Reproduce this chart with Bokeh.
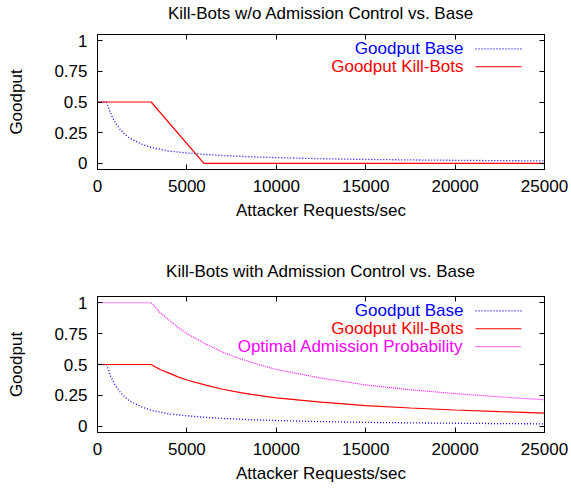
from bokeh.plotting import figure
from bokeh.models import FixedTicker, LinearAxis, Range1d
from bokeh.layouts import column
from bokeh.embed import file_html
from bokeh.resources import INLINE
from bokeh.core.properties import value

FONT = "Liberation Sans"
FS = "17px"

# ---------------- data ----------------
x_ticks = [0, 5000, 10000, 15000, 20000, 25000]
x_tick_labels = ["0", "5000", "10000", "15000", "20000", "25000"]
y_ticks = [0, 0.25, 0.5, 0.75, 1]
y_tick_labels = ["0", "0.25", "0.5", "0.75", "1"]

title_top = "Kill-Bots w/o Admission Control vs. Base"
title_bottom = "Kill-Bots with Admission Control vs. Base"
x_label = "Attacker Requests/sec"
y_label = "Goodput"

# Goodput of the base server (same in both panels)
base_x = [0, 500, 750, 1000, 1250, 1500, 1750, 2000, 2500, 3000, 3500, 4000,
          5000, 6000, 7000, 8000, 9000, 10000, 12500, 15000, 17500, 20000,
          22500, 25000]
base_y = [0.5, 0.5, 0.40, 0.33, 0.28, 0.24, 0.21, 0.19, 0.155, 0.13, 0.115,
          0.10, 0.085, 0.073, 0.064, 0.057, 0.051, 0.047, 0.038, 0.032, 0.028,
          0.025, 0.022, 0.02]

# Kill-Bots without admission control
kb_noac_x = [0, 3000, 5950, 25000]
kb_noac_y = [0.5, 0.5, 0.0, 0.0]

# Kill-Bots with admission control
ac_x = [0, 3000, 3250, 3500, 4000, 4500, 5000, 6000, 7000, 8000, 9000, 10000,
        12500, 15000, 17500, 20000, 22500, 25000]
kb_ac_y = [0.5, 0.5, 0.48, 0.46, 0.43, 0.40, 0.375, 0.335, 0.30, 0.273, 0.25,
           0.23, 0.195, 0.168, 0.148, 0.132, 0.119, 0.107]
prob_y = [1.0, 1.0, 0.96, 0.92, 0.86, 0.80, 0.75, 0.67, 0.60, 0.545, 0.50,
          0.46, 0.39, 0.335, 0.295, 0.265, 0.238, 0.215]

labels_top = ["Goodput Base", "Goodput Kill-Bots"]
labels_bottom = ["Goodput Base", "Goodput Kill-Bots", "Optimal Admission Probability"]

# ---------------- styles ----------------
BLUE = "#0000ff"
RED = "#ff0000"
MAGENTA = "#ff00ff"
X0, X1 = 0, 25000
Y0, Y1 = -0.05, 1.05
WIDTH = 571
BORDER_L, BORDER_R = 97, 27
FRAME_W = WIDTH - BORDER_L - BORDER_R
LEG_TEXT_END = 366
LEG_LINE0 = 378
LEG_LINE1 = 424
LEG_TOP = 14.5
LEG_STEP = 18


def style_axis(ax, ticks, labels, standoff):
    ax.ticker = FixedTicker(ticks=ticks)
    ax.major_label_overrides = {t: l for t, l in zip(ticks, labels)}
    ax.minor_tick_line_color = None
    ax.major_tick_in = 5
    ax.major_tick_out = 0
    ax.axis_line_color = "black"
    ax.major_tick_line_color = "black"
    ax.major_label_text_font = FONT
    ax.major_label_text_font_size = FS
    ax.major_label_text_color = "black"
    ax.major_label_standoff = standoff
    ax.axis_label_text_font = FONT
    ax.axis_label_text_font_size = FS
    ax.axis_label_text_font_style = "normal"
    ax.axis_label_text_color = "black"


def make_fig(title, height, top, frame_h, title_standoff):
    p = figure(width=WIDTH, height=height, x_range=Range1d(X0, X1),
               y_range=Range1d(Y0, Y1), output_backend="svg",
               toolbar_location=None, min_border_left=BORDER_L,
               min_border_right=BORDER_R, min_border_top=top,
               min_border_bottom=height - top - frame_h)
    p.grid.visible = False
    p.outline_line_color = "black"
    p.outline_line_alpha = 1
    p.background_fill_color = "white"
    p.border_fill_color = "white"
    style_axis(p.xaxis[0], x_ticks, x_tick_labels, 10)
    style_axis(p.yaxis[0], y_ticks, y_tick_labels, 10)
    p.xaxis[0].axis_label = x_label
    p.xaxis[0].axis_label_standoff = 6
    p.yaxis[0].axis_label = y_label
    p.yaxis[0].axis_label_standoff = 25
    # mirrored tick axes; the top one carries the panel title as its label
    top_ax = LinearAxis()
    style_axis(top_ax, x_ticks, ["" for _ in x_ticks], 0)
    top_ax.major_label_text_font_size = "0px"
    top_ax.axis_label = title
    top_ax.axis_label_standoff = title_standoff
    p.add_layout(top_ax, "above")
    right_ax = LinearAxis()
    style_axis(right_ax, y_ticks, ["" for _ in y_ticks], 0)
    right_ax.major_label_text_font_size = "0px"
    p.add_layout(right_ax, "right")
    return p


def add_legend(p, entries, frame_h):
    dx = (X1 - X0) / FRAME_W
    dy = (Y1 - Y0) / frame_h
    for i, (label, color, dash) in enumerate(entries):
        yy = Y1 - (LEG_TOP + i * LEG_STEP) * dy
        p.text(x=[X0 + LEG_TEXT_END * dx], y=[yy], text=[label],
               text_align="right", text_baseline="middle",
               text_font=value(FONT), text_font_size=FS, text_color=color)
        p.segment(x0=[X0 + LEG_LINE0 * dx], y0=[yy], x1=[X0 + LEG_LINE1 * dx],
                  y1=[yy], line_color=color, line_dash=dash, line_width=1.2)


# ---------------- top panel ----------------
H1, F1 = 258, 136
p1 = make_fig(title_top, H1, 33, F1, 12)
p1.line(base_x, base_y, line_color=BLUE, line_dash="1 2", line_width=1.3)
p1.line(kb_noac_x, kb_noac_y, line_color=RED, line_width=1.2)
add_legend(p1, [(labels_top[0], BLUE, "1 2"), (labels_top[1], RED, "solid")], F1)

# ---------------- bottom panel ----------------
H2, F2 = 232, 137
p2 = make_fig(title_bottom, H2, 37, F2, 16)
p2.line(base_x, base_y, line_color=BLUE, line_dash="1 2", line_width=1.3)
p2.line(ac_x, kb_ac_y, line_color=RED, line_width=1.2)
p2.line(ac_x, prob_y, line_color=MAGENTA, line_dash="1 1", line_width=1.1)
add_legend(p2, [(labels_bottom[0], BLUE, "1 2"), (labels_bottom[1], RED, "solid"),
                (labels_bottom[2], MAGENTA, "1 1")], F2)

layout = column(p1, p2)
open("out.html", "w").write(file_html(layout, INLINE))
